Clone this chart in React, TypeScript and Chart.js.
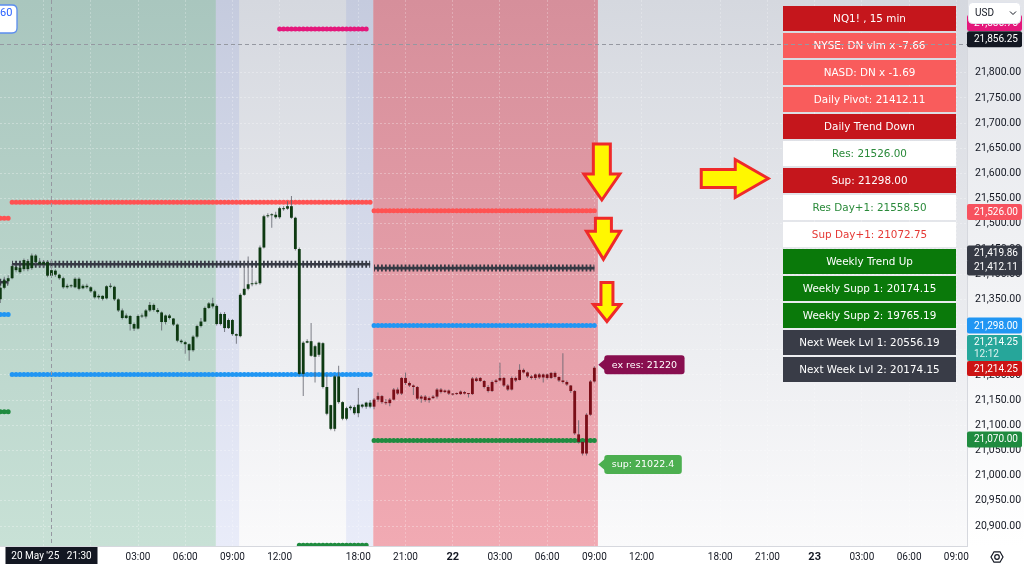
import React, { useEffect, useRef } from "react";
import { Chart, registerables } from "chart.js";

Chart.register(...registerables);

// ---------------- DATA ----------------
// 15-minute bars; bar index 0 = 21 May 00:00 (CME maintenance hour has no bars)
const FIRST_BAR = -23;

const opens = [
  21350, 21373, 21386, 21392, 21414, 21404, 21410, 21426, 21412, 21437,
  21424, 21419, 21424, 21397, 21407, 21399, 21392, 21374, 21377, 21374,
  21391, 21372, 21377, 21374, 21366, 21354, 21357, 21352, 21376, 21375,
  21350, 21328, 21313, 21317, 21301, 21292, 21317, 21316, 21328, 21339,
  21329, 21324, 21305, 21318, 21312, 21300, 21268, 21265, 21261, 21249,
  21276, 21297, 21306, 21333, 21342, 21337, 21301, 21321, 21293, 21309,
  21281, 21277, 21359, 21371, 21380, 21381, 21382, 21453, 21515, 21517,
  21518, 21513, 21531, 21530, 21535, 21512, 21450, 21202, 21264, 21267,
  21236, 21240, 21263, 21176, 21140, 21093, 21197, 21146, 21113, 21134,
  21136, 21124, 21141, 21137, 21145, 21137, 21151, 21158, 21146, 21144,
  21151, 21171, 21163, 21194, 21184, 21179, 21176, 21153, 21157, 21150,
  21154, 21157, 21171, 21166, 21169, 21163, 21162, 21162, 21166, 21163,
  21162, 21193, 21188, 21188, 21176, 21168, 21186, 21189, 21194, 21179,
  21171, 21194, 21190, 21210, 21205, 21197, 21194, 21201, 21195, 21201,
  21194, 21204, 21196, 21189, 21186, 21179, 21168, 21082, 21067, 21044,
  21121, 21187,
];
const highs = [
  21376, 21395, 21398, 21420, 21418, 21416, 21431, 21430, 21441, 21440,
  21432, 21428, 21428, 21413, 21410, 21401, 21395, 21381, 21380, 21394,
  21394, 21380, 21381, 21376, 21369, 21360, 21358, 21378, 21382, 21377,
  21352, 21332, 21322, 21319, 21304, 21320, 21322, 21331, 21345, 21342,
  21333, 21326, 21320, 21321, 21313, 21302, 21271, 21268, 21263, 21279,
  21300, 21313, 21336, 21345, 21353, 21340, 21324, 21325, 21312, 21311,
  21282, 21362, 21425, 21435, 21412, 21387, 21457, 21518, 21521, 21521,
  21524, 21534, 21535, 21545, 21555, 21514, 21453, 21267, 21271, 21303,
  21260, 21266, 21265, 21201, 21141, 21200, 21218, 21148, 21137, 21140,
  21140, 21174, 21143, 21147, 21150, 21154, 21165, 21160, 21152, 21154,
  21174, 21175, 21196, 21205, 21187, 21181, 21178, 21160, 21160, 21157,
  21160, 21174, 21174, 21171, 21171, 21164, 21165, 21169, 21168, 21164,
  21196, 21196, 21196, 21190, 21180, 21189, 21192, 21224, 21196, 21182,
  21197, 21197, 21221, 21213, 21207, 21200, 21203, 21204, 21203, 21203,
  21206, 21207, 21197, 21243, 21189, 21180, 21170, 21110, 21068, 21124,
  21190, 21217,
];
const lows = [
  21343, 21370, 21380, 21390, 21404, 21401, 21406, 21406, 21409, 21420,
  21415, 21412, 21394, 21393, 21395, 21389, 21371, 21371, 21373, 21372,
  21368, 21370, 21371, 21363, 21351, 21350, 21348, 21350, 21372, 21347,
  21325, 21310, 21311, 21288, 21287, 21290, 21313, 21312, 21325, 21326,
  21322, 21288, 21300, 21310, 21297, 21265, 21262, 21242, 21228, 21246,
  21273, 21294, 21305, 21331, 21332, 21298, 21298, 21285, 21291, 21278,
  21262, 21275, 21357, 21368, 21376, 21378, 21379, 21451, 21512, 21492,
  21510, 21510, 21526, 21528, 21510, 21447, 21199, 21158, 21263, 21236,
  21185, 21236, 21173, 21120, 21090, 21088, 21143, 21110, 21110, 21130,
  21121, 21116, 21134, 21133, 21134, 21132, 21147, 21143, 21141, 21138,
  21149, 21160, 21160, 21180, 21176, 21160, 21150, 21145, 21147, 21145,
  21152, 21153, 21163, 21164, 21160, 21159, 21160, 21160, 21161, 21155,
  21160, 21186, 21186, 21173, 21165, 21166, 21183, 21187, 21176, 21168,
  21169, 21186, 21189, 21203, 21194, 21191, 21190, 21192, 21185, 21191,
  21192, 21193, 21186, 21183, 21178, 21164, 21081, 21064, 21040, 21040,
  21119, 21185,
];
const closes = [
  21373, 21388, 21392, 21416, 21408, 21413, 21428, 21410, 21437, 21424,
  21419, 21424, 21397, 21408, 21399, 21392, 21374, 21377, 21376, 21391,
  21371, 21377, 21374, 21366, 21354, 21357, 21351, 21376, 21375, 21350,
  21328, 21313, 21318, 21301, 21292, 21317, 21316, 21328, 21339, 21329,
  21325, 21305, 21318, 21313, 21300, 21268, 21265, 21261, 21249, 21276,
  21297, 21306, 21333, 21342, 21336, 21301, 21321, 21293, 21309, 21281,
  21278, 21359, 21371, 21380, 21381, 21383, 21453, 21515, 21517, 21518,
  21513, 21531, 21529, 21535, 21512, 21450, 21202, 21264, 21267, 21238,
  21257, 21264, 21176, 21123, 21093, 21197, 21146, 21113, 21134, 21137,
  21124, 21141, 21137, 21145, 21137, 21151, 21158, 21146, 21144, 21151,
  21171, 21163, 21194, 21184, 21179, 21176, 21153, 21157, 21150, 21154,
  21157, 21171, 21166, 21169, 21163, 21161, 21163, 21167, 21163, 21162,
  21193, 21188, 21194, 21176, 21168, 21186, 21189, 21194, 21179, 21171,
  21194, 21189, 21210, 21205, 21197, 21194, 21201, 21195, 21201, 21194,
  21204, 21196, 21189, 21186, 21181, 21168, 21084, 21067, 21044, 21121,
  21187, 21214.25,
];

const X_MIN = -23.08;
const X_MAX = 222.72;
const Y_MIN = 20860.4;
const Y_MAX = 21944.3;

const xTickValues = [-12, 0, 12, 24, 36, 48, 68, 80, 92, 104, 116, 128, 140, 160, 172, 184, 196, 208, 220];
const xTickLabels = ["21:00", "21", "03:00", "06:00", "09:00", "12:00", "18:00", "21:00", "22", "03:00", "06:00", "09:00", "12:00", "18:00", "21:00", "23", "03:00", "06:00", "09:00"];
const dayLabels = ["21", "22", "23"];
const yTickValues = [20900, 20950, 21000, 21050, 21100, 21150, 21200, 21250, 21300, 21350, 21400, 21450, 21500, 21550, 21600, 21650, 21700, 21750, 21800];

const sessionBands = [
  { from: -30, to: 31.8, kind: "upDay" },
  { from: 31.8, to: 37.7, kind: "preMarket" },
  { from: 64.9, to: 71.8, kind: "preMarket" },
  { from: 71.8, to: 128.9, kind: "downDay" },
];

const levelSegments = [
  { kind: "res", from: -30, to: -21, value: 21511 },
  { kind: "pivot", from: -30, to: -21, value: 21384 },
  { kind: "sup", from: -30, to: -21, value: 21320 },
  { kind: "sup2", from: -30, to: -21, value: 21127 },
  { kind: "res", from: -20, to: 71, value: 21543 },
  { kind: "pivot", from: -20, to: 71, value: 21419.86 },
  { kind: "sup", from: -20, to: 71, value: 21201 },
  { kind: "high", from: 48, to: 71, value: 21886.75 },
  { kind: "sup2", from: 53, to: 71, value: 20862 },
  { kind: "res", from: 72, to: 128, value: 21526 },
  { kind: "pivot", from: 72, to: 128, value: 21412.11 },
  { kind: "sup", from: 72, to: 128, value: 21298 },
  { kind: "sup2", from: 72, to: 128, value: 21070 },
];

const priceLabels = [
  { value: 21886.75, kind: "high" },
  { value: 21856.25, kind: "cursor" },
  { value: 21526, kind: "res" },
  { value: 21419.86, kind: "pivotPrev" },
  { value: 21412.11, kind: "pivot" },
  { value: 21298, kind: "sup" },
  { value: 21070, kind: "sup2" },
];
const lastPrice = 21214.25;
const barCountdown = "12:12";
const cursorBar = -10;
const cursorPrice = 21856.25;
const cursorTimeLabel = "20 May '25   21:30";

const callouts = [
  { bar: 129, price: 21220, text: "ex res: 21220", kind: "exRes" },
  { bar: 129, price: 21022.4, text: "sup: 21022.4", kind: "sup" },
];

const arrowMarks = [
  { bar: 129.9, price: 21547.3, dir: "down" },
  { bar: 130.3, price: 21429.4, dir: "down" },
  { bar: 131.2, price: 21306.1, dir: "down" },
  { bar: 172.2, price: 21590.0, dir: "right" },
];

const tableRows = [
  { text: "NQ1! , 15 min", kind: "darkRed" },
  { text: "NYSE: DN vlm x -7.66", kind: "lightRed" },
  { text: "NASD: DN x -1.69", kind: "lightRed" },
  { text: "Daily Pivot: 21412.11", kind: "lightRed" },
  { text: "Daily Trend Down", kind: "darkRed" },
  { text: "Res: 21526.00", kind: "whiteGreen" },
  { text: "Sup: 21298.00", kind: "darkRed" },
  { text: "Res Day+1: 21558.50", kind: "whiteGreen" },
  { text: "Sup Day+1: 21072.75", kind: "whiteRed" },
  { text: "Weekly Trend Up", kind: "green" },
  { text: "Weekly Supp 1: 20174.15", kind: "green" },
  { text: "Weekly Supp 2: 19765.19", kind: "green" },
  { text: "Next Week Lvl 1: 20556.19", kind: "slate" },
  { text: "Next Week Lvl 2: 20174.15", kind: "slate" },
];

// ---------------- STYLES ----------------
const FONT = 'Roboto, "Liberation Sans", Arial, sans-serif';
const TABLE_FONT = '"DejaVu Sans", Verdana, sans-serif';

const bandStyles: any = {
  upDay: { top: "#a9c6be", bottom: "#c8e1d6" },
  preMarket: { top: "#c5cbde", bottom: "#e9ecf9" },
  downDay: { top: "#d68f9b", bottom: "#f1aab3" },
};
const levelStyles: any = {
  res: { color: "#ff5252", style: "dots" },
  pivot: { color: "#363944", style: "cross" },
  sup: { color: "#2196f3", style: "dots" },
  sup2: { color: "#1f8b3f", style: "dots" },
  high: { color: "#e4177b", style: "dots" },
};
const labelStyles: any = {
  high: { bg: "#e4177b", dy: -6 },
  cursor: { bg: "#131722", dy: -5 },
  res: { bg: "#f7525f", dy: 1.3 },
  pivotPrev: { bg: "#363a45", dy: -10.7 },
  pivot: { bg: "#363a45", dy: -0.6 },
  sup: { bg: "#2196f3", dy: 0 },
  sup2: { bg: "#1f8b3f", dy: -1 },
};
const tableStyles: any = {
  darkRed: { bg: "#c5161c", fg: "#ffffff" },
  lightRed: { bg: "#f95c5c", fg: "#ffffff" },
  whiteGreen: { bg: "#ffffff", fg: "#2a8a3a" },
  whiteRed: { bg: "#ffffff", fg: "#e53935" },
  green: { bg: "#0a790a", fg: "#ffffff" },
  slate: { bg: "#393c47", fg: "#ffffff" },
};
const calloutStyles: any = {
  exRes: { bg: "#880e4f" },
  sup: { bg: "#4caf50" },
};
const arrowShapes = [
  { len: 56, headLen: 26, headW: 36, shaftW: 17 },
  { len: 41, headLen: 28, headW: 34, shaftW: 16 },
  { len: 39, headLen: 17, headW: 27, shaftW: 12 },
  { len: 67, headLen: 33, headW: 38, shaftW: 18 },
];

const fmtPrice = (v: number) =>
  v.toLocaleString("en-US", { minimumFractionDigits: 2, maximumFractionDigits: 2 });

function roundRect(ctx: CanvasRenderingContext2D, x: number, y: number, w: number, h: number, r: number) {
  ctx.beginPath();
  ctx.moveTo(x + r, y);
  ctx.lineTo(x + w - r, y);
  ctx.quadraticCurveTo(x + w, y, x + w, y + r);
  ctx.lineTo(x + w, y + h - r);
  ctx.quadraticCurveTo(x + w, y + h, x + w - r, y + h);
  ctx.lineTo(x + r, y + h);
  ctx.quadraticCurveTo(x, y + h, x, y + h - r);
  ctx.lineTo(x, y + r);
  ctx.quadraticCurveTo(x, y, x + r, y);
  ctx.closePath();
}

const inDownBand = (bar: number) =>
  sessionBands.some((b) => b.kind === "downDay" && bar >= b.from && bar <= b.to);

const barPx = (c: any) => {
  const s = c && c.chart && c.chart.scales ? c.chart.scales.x : null;
  if (!s) return 3.93;
  return Math.abs(s.getPixelForValue(1) - s.getPixelForValue(0));
};

const backgroundPlugin = {
  id: "tvBackground",
  beforeDraw(chart: any) {
    const { ctx, chartArea: a, width, height } = chart;
    const xs = chart.scales.x;
    ctx.save();
    let g = ctx.createLinearGradient(0, a.top, 0, a.bottom);
    g.addColorStop(0, "#d5d8df");
    g.addColorStop(1, "#fafafb");
    ctx.fillStyle = g;
    ctx.fillRect(0, 0, width, height);
    g = ctx.createLinearGradient(0, a.top, 0, a.bottom);
    g.addColorStop(0, "#e3e5ea");
    g.addColorStop(1, "#ffffff");
    ctx.fillStyle = g;
    ctx.fillRect(a.right, 0, width - a.right, height);
    ctx.fillStyle = "#ffffff";
    ctx.fillRect(0, a.bottom, a.right, height - a.bottom);

    ctx.beginPath();
    ctx.rect(a.left, a.top, a.right - a.left, a.bottom - a.top);
    ctx.clip();
    for (const b of sessionBands) {
      const st = bandStyles[b.kind];
      const gg = ctx.createLinearGradient(0, a.top, 0, a.bottom);
      gg.addColorStop(0, st.top);
      gg.addColorStop(1, st.bottom);
      ctx.fillStyle = gg;
      const x0 = xs.getPixelForValue(b.from);
      const x1 = xs.getPixelForValue(b.to);
      ctx.fillRect(x0, a.top, x1 - x0, a.bottom - a.top);
    }
    ctx.restore();
  },
};

function drawArrow(ctx: CanvasRenderingContext2D, tx: number, ty: number, dir: string, s: any) {
  ctx.beginPath();
  if (dir === "down") {
    ctx.moveTo(tx - s.shaftW / 2, ty - s.len);
    ctx.lineTo(tx + s.shaftW / 2, ty - s.len);
    ctx.lineTo(tx + s.shaftW / 2, ty - s.headLen);
    ctx.lineTo(tx + s.headW / 2, ty - s.headLen);
    ctx.lineTo(tx, ty);
    ctx.lineTo(tx - s.headW / 2, ty - s.headLen);
    ctx.lineTo(tx - s.shaftW / 2, ty - s.headLen);
  } else {
    ctx.moveTo(tx - s.len, ty - s.shaftW / 2);
    ctx.lineTo(tx - s.headLen, ty - s.shaftW / 2);
    ctx.lineTo(tx - s.headLen, ty - s.headW / 2);
    ctx.lineTo(tx, ty);
    ctx.lineTo(tx - s.headLen, ty + s.headW / 2);
    ctx.lineTo(tx - s.headLen, ty + s.shaftW / 2);
    ctx.lineTo(tx - s.len, ty + s.shaftW / 2);
  }
  ctx.closePath();
  ctx.fillStyle = "#fff700";
  ctx.fill();
  ctx.lineWidth = 3;
  ctx.lineJoin = "miter";
  ctx.strokeStyle = "#ef2a2a";
  ctx.stroke();
}

const overlayPlugin = {
  id: "tvOverlay",
  afterDraw(chart: any) {
    const { ctx, chartArea: a, height } = chart;
    const xs = chart.scales.x;
    const ys = chart.scales.y;
    ctx.save();

    // callouts at last bar
    ctx.font = `9.5px ${TABLE_FONT}`;
    for (const c of callouts) {
      const tx = xs.getPixelForValue(c.bar);
      const ty = ys.getPixelForValue(c.price);
      const tw = ctx.measureText(c.text).width;
      const bw = tw + 15;
      const bh = 19;
      ctx.fillStyle = calloutStyles[c.kind].bg;
      roundRect(ctx, tx + 6, ty - bh / 2, bw, bh, 3);
      ctx.fill();
      ctx.beginPath();
      ctx.moveTo(tx, ty);
      ctx.lineTo(tx + 7, ty - 6);
      ctx.lineTo(tx + 7, ty + 6);
      ctx.closePath();
      ctx.fill();
      ctx.fillStyle = "#ffffff";
      ctx.textAlign = "center";
      ctx.textBaseline = "middle";
      ctx.fillText(c.text, tx + 6 + bw / 2, ty + 0.5);
    }

    // table
    const TX = 783, TW = 173, TY = 6, RH = 25, RP = 27;
    ctx.font = `10.4px ${TABLE_FONT}`;
    ctx.textAlign = "center";
    ctx.textBaseline = "middle";
    tableRows.forEach((row, r) => {
      const st = tableStyles[row.kind];
      const y = TY + r * RP;
      ctx.fillStyle = st.bg;
      ctx.fillRect(TX, y, TW, RH);
      ctx.fillStyle = st.fg;
      ctx.fillText(row.text, TX + TW / 2, y + RH / 2 + 0.5);
    });

    // arrows
    arrowMarks.forEach((m, i) => {
      drawArrow(ctx, xs.getPixelForValue(m.bar), ys.getPixelForValue(m.price), m.dir, arrowShapes[i]);
    });

    // crosshair
    ctx.strokeStyle = "#9598a1";
    ctx.lineWidth = 1;
    ctx.setLineDash([4, 3]);
    const cx = Math.round(xs.getPixelForValue(cursorBar)) + 0.5;
    const cy = Math.round(ys.getPixelForValue(cursorPrice)) + 0.5;
    ctx.beginPath();
    ctx.moveTo(cx, a.top);
    ctx.lineTo(cx, a.bottom);
    ctx.moveTo(a.left, cy);
    ctx.lineTo(a.right, cy);
    ctx.stroke();
    ctx.setLineDash([]);

    // price axis labels
    const bx = a.right;
    const bw = 55;
    ctx.font = `10px ${FONT}`;
    ctx.textAlign = "left";
    ctx.textBaseline = "middle";
    for (const p of priceLabels) {
      const st = labelStyles[p.kind];
      const y = ys.getPixelForValue(p.value) + st.dy;
      ctx.fillStyle = st.bg;
      roundRect(ctx, bx, y - 8, bw, 16, 2);
      ctx.fill();
      ctx.fillStyle = "#ffffff";
      ctx.fillText(fmtPrice(p.value), bx + 7, y + 0.5);
    }
    // last price + countdown
    const ly = ys.getPixelForValue(lastPrice) + 0.8;
    ctx.fillStyle = "#26a69a";
    roundRect(ctx, bx, ly - 7.5 - 26, bw, 26, 2);
    ctx.fill();
    ctx.fillStyle = "#ffffff";
    ctx.fillText(fmtPrice(lastPrice), bx + 7, ly - 7.5 - 19);
    ctx.fillStyle = "rgba(255,255,255,0.85)";
    ctx.fillText(barCountdown, bx + 7, ly - 7.5 - 7);
    ctx.fillStyle = "#cc1414";
    roundRect(ctx, bx, ly - 7.5, bw, 15, 2);
    ctx.fill();
    ctx.fillStyle = "#ffffff";
    ctx.fillText(fmtPrice(lastPrice), bx + 7, ly + 0.5);

    // time crosshair label
    ctx.fillStyle = "#131722";
    ctx.fillRect(cx - 46, a.bottom + 1, 92, height - a.bottom - 1);
    ctx.fillStyle = "#ffffff";
    ctx.textAlign = "center";
    ctx.font = `10px ${FONT}`;
    ctx.fillText(cursorTimeLabel, cx, a.bottom + 10);

    // USD box
    ctx.fillStyle = "#ffffff";
    roundRect(ctx, 968.5, 2.5, 52, 21, 4);
    ctx.fill();
    ctx.strokeStyle = "#e0e3eb";
    ctx.lineWidth = 1;
    ctx.stroke();
    ctx.fillStyle = "#131722";
    ctx.textAlign = "left";
    ctx.fillText("USD", 975, 13.5);
    ctx.beginPath();
    ctx.moveTo(1010, 11.5);
    ctx.lineTo(1013, 14.5);
    ctx.lineTo(1016, 11.5);
    ctx.strokeStyle = "#131722";
    ctx.stroke();

    // settings icon
    const ix = 997, iy = 557;
    ctx.beginPath();
    for (let k = 0; k < 6; k++) {
      const ang = (Math.PI / 3) * k;
      const px = ix + 6 * Math.cos(ang);
      const py = iy + 6 * Math.sin(ang);
      if (k === 0) ctx.moveTo(px, py);
      else ctx.lineTo(px, py);
    }
    ctx.closePath();
    ctx.strokeStyle = "#131722";
    ctx.lineWidth = 1.2;
    ctx.stroke();
    ctx.beginPath();
    ctx.arc(ix, iy, 2.3, 0, Math.PI * 2);
    ctx.stroke();

    // top-left partial widget
    ctx.fillStyle = "#ffffff";
    roundRect(ctx, -30, 5, 47, 28, 5);
    ctx.fill();
    ctx.strokeStyle = "#5b8def";
    ctx.lineWidth = 1.3;
    ctx.stroke();
    ctx.fillStyle = "#2962ff";
    ctx.font = `11px ${FONT}`;
    ctx.textAlign = "left";
    ctx.fillText("60", 0, 13.5);

    ctx.restore();
  },
};

function buildConfig() {
  const bodyData = opens.map((o, k) => ({ x: FIRST_BAR + k, y: [o, closes[k]] }));
  const wickData = lows.map((l, k) => ({ x: FIRST_BAR + k, y: [l, highs[k]] }));

  const levelDatasets = levelSegments.flatMap((seg) => {
    const st = levelStyles[seg.kind];
    const base: any = {
      type: "line",
      data: [
        { x: seg.from, y: seg.value },
        { x: seg.to, y: seg.value },
      ],
      pointRadius: 0,
      fill: false,
      tension: 0,
      clip: 0,
      borderColor: st.color,
    };
    if (st.style === "cross") {
      return [
        { ...base, borderWidth: 7, borderCapStyle: "butt", borderDash: (c: any) => [1.8, barPx(c) - 1.8], borderDashOffset: 0.9 },
        { ...base, borderWidth: 2.6, borderCapStyle: "butt" },
      ];
    }
    return [{ ...base, borderWidth: 5, borderCapStyle: "round", borderDash: (c: any) => [0, barPx(c)] }];
  });

  const datasets: any[] = [
    {
      type: "bar",
      data: bodyData,
      grouped: false,
      maxBarThickness: 3,
      minBarLength: 1,
      borderWidth: 0,
      clip: 0,
      backgroundColor: (c: any) => (c.raw && inDownBand(c.raw.x) ? "#7a0e18" : "#0e3a12"),
    },
    {
      type: "bar",
      data: wickData,
      grouped: false,
      maxBarThickness: 1,
      borderWidth: 0,
      clip: 0,
      backgroundColor: "rgba(95,98,108,0.8)",
    },
    ...levelDatasets,
  ];

  return {
    type: "bar",
    data: { datasets },
    options: {
      responsive: false,
      animation: false,
      events: [],
      layout: { padding: 0, autoPadding: false },
      plugins: { legend: { display: false }, tooltip: { enabled: false } },
      scales: {
        x: {
          type: "linear",
          min: X_MIN,
          max: X_MAX,
          offset: false,
          afterBuildTicks: (s: any) => {
            s.ticks = xTickValues.map((v) => ({ value: v }));
          },
          afterFit: (s: any) => {
            s.height = 18;
            s.paddingLeft = 0;
            s.paddingRight = 0;
          },
          ticks: {
            autoSkip: false,
            maxRotation: 0,
            minRotation: 0,
            padding: 5,
            color: "#131722",
            font: (c: any) => {
              const day = dayLabels.includes(xTickLabels[c.index]);
              return { family: FONT, size: day ? 11 : 10, weight: day ? "bold" : "normal" };
            },
            callback: (_v: any, i: number) => xTickLabels[i],
          },
          grid: { color: "rgba(255,255,255,0.25)", drawTicks: false, offset: false },
          border: { display: true, color: "#d6d8de", dash: [2, 2] },
        },
        y: {
          type: "linear",
          position: "right",
          min: Y_MIN,
          max: Y_MAX,
          afterBuildTicks: (s: any) => {
            s.ticks = yTickValues.map((v) => ({ value: v }));
          },
          afterFit: (s: any) => {
            s.width = 57;
            s.paddingTop = 0;
            s.paddingBottom = 0;
          },
          ticks: {
            padding: 8,
            color: "#131722",
            font: { family: FONT, size: 10.5 },
            callback: (v: any) => fmtPrice(Number(v)),
          },
          grid: { color: "rgba(255,255,255,0.3)", drawTicks: false },
          border: { display: true, color: "#d6d8de", dash: [2, 2] },
        },
      },
    },
    plugins: [backgroundPlugin, overlayPlugin],
  };
}

export default function App() {
  const ref = useRef<HTMLCanvasElement | null>(null);
  useEffect(() => {
    if (!ref.current) return;
    const chart = new Chart(ref.current, buildConfig() as any);
    return () => chart.destroy();
  }, []);
  return (
    <div
      style={{
        position: "fixed",
        left: 0,
        top: 0,
        width: 1024,
        height: 564,
        overflow: "hidden",
        background: "#ffffff",
      }}
    >
      <canvas ref={ref} width={1024} height={564} style={{ display: "block", width: 1024, height: 564 }} />
    </div>
  );
}
